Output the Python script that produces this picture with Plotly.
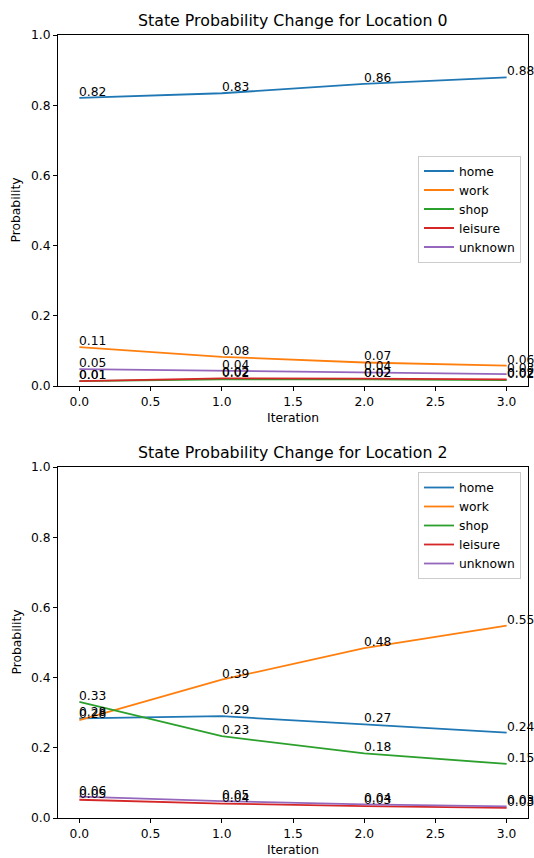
import plotly.graph_objects as go

iterations = [0, 1, 2, 3]
states = ["home", "work", "shop", "leisure", "unknown"]
colors = ["#1f77b4", "#ff7f0e", "#2ca02c", "#d62728", "#9467bd"]

loc0_home = [0.821, 0.834, 0.861, 0.879]
loc0_work = [0.111, 0.083, 0.067, 0.058]
loc0_shop = [0.014, 0.019, 0.019, 0.017]
loc0_leisure = [0.014, 0.022, 0.021, 0.019]
loc0_unknown = [0.048, 0.044, 0.039, 0.034]

loc2_home = [0.284, 0.290, 0.267, 0.243]
loc2_work = [0.279, 0.394, 0.484, 0.548]
loc2_shop = [0.331, 0.233, 0.184, 0.154]
loc2_leisure = [0.052, 0.041, 0.034, 0.029]
loc2_unknown = [0.061, 0.048, 0.039, 0.033]

titles = ["State Probability Change for Location 0", "State Probability Change for Location 2"]
x_ticks = [0, 0.5, 1, 1.5, 2, 2.5, 3]
y_ticks = [0, 0.2, 0.4, 0.6, 0.8, 1.0]

W, H = 534, 858
FONT = "DejaVu Sans"

panels = [
    [loc0_home, loc0_work, loc0_shop, loc0_leisure, loc0_unknown],
    [loc2_home, loc2_work, loc2_shop, loc2_leisure, loc2_unknown],
]
# axes boxes in pixels: (left, right, top, bottom)
boxes = [(58, 528, 35, 386), (58, 528, 467, 818)]

fig = go.Figure()
annotations = []
for p, (series_list, box) in enumerate(zip(panels, boxes)):
    xa = "x" if p == 0 else "x2"
    ya = "y" if p == 0 else "y2"
    lg = "legend" if p == 0 else "legend2"
    for name, vals, col in zip(states, series_list, colors):
        fig.add_trace(go.Scatter(
            x=iterations, y=vals, mode="lines", name=name,
            line=dict(color=col, width=1.8), xaxis=xa, yaxis=ya,
            legend=lg, hoverinfo="skip",
        ))
        for xi, v in zip(iterations, vals):
            annotations.append(dict(
                x=xi, y=v, xref=xa, yref=ya, text=f"{v:.2f}",
                showarrow=False, xanchor="left", yanchor="bottom",
                xshift=-2, yshift=-3,
                font=dict(family=FONT, size=12.3, color="black"),
            ))
    left, right, top, bottom = box
    cx = (left + right) / 2 / W
    annotations.append(dict(
        x=cx, y=1 - top / H, xref="paper", yref="paper", text=titles[p],
        showarrow=False, xanchor="center", yanchor="bottom", yshift=3,
        font=dict(family=FONT, size=15.8, color="black"),
    ))
    annotations.append(dict(
        x=cx, y=1 - (bottom + 32) / H, xref="paper", yref="paper", text="Iteration",
        showarrow=False, xanchor="center", yanchor="middle",
        font=dict(family=FONT, size=12.3, color="black"),
    ))
    annotations.append(dict(
        x=16 / W, y=1 - (top + bottom) / 2 / H, xref="paper", yref="paper",
        text="Probability", textangle=-90,
        showarrow=False, xanchor="center", yanchor="middle",
        font=dict(family=FONT, size=12.3, color="black"),
    ))

axis_common = dict(
    showline=True, linecolor="black", linewidth=1, mirror=True,
    ticks="outside", ticklen=4, tickwidth=1, tickcolor="black",
    showgrid=False, zeroline=False, automargin=False,
    tickfont=dict(family=FONT, size=12.3, color="black"),
)

layout = dict(
    width=W, height=H,
    margin=dict(l=0, r=0, t=0, b=0),
    paper_bgcolor="white", plot_bgcolor="white",
    annotations=annotations,
    font=dict(family=FONT, size=12, color="black"),
    legend=dict(
        x=521 / W, y=1 - 209 / H, xanchor="right", yanchor="middle",
        bgcolor="rgba(255,255,255,0.8)", bordercolor="#cccccc", borderwidth=1,
        font=dict(family=FONT, size=12.3, color="black"), itemwidth=30,
        tracegroupgap=0,
    ),
    legend2=dict(
        x=521 / W, y=1 - 472 / H, xanchor="right", yanchor="top",
        bgcolor="rgba(255,255,255,0.8)", bordercolor="#cccccc", borderwidth=1,
        font=dict(family=FONT, size=12.3, color="black"), itemwidth=30,
        tracegroupgap=0,
    ),
)
for p, box in enumerate(boxes):
    left, right, top, bottom = box
    sfx = "" if p == 0 else "2"
    layout["xaxis" + sfx] = dict(
        axis_common, domain=[left / W, right / W], range=[-0.15, 3.15],
        tickvals=x_ticks, ticktext=[f"{t:.1f}" for t in x_ticks],
        anchor="y" + sfx,
    )
    layout["yaxis" + sfx] = dict(
        axis_common, domain=[1 - bottom / H, 1 - top / H], range=[0, 1],
        tickvals=y_ticks, ticktext=[f"{t:.1f}" for t in y_ticks],
        anchor="x" + sfx,
    )

fig.update_layout(**layout)
fig.write_html(
    "out.html",
    config={"displayModeBar": False},
    post_script="document.body.style.margin='0';document.body.style.overflow='hidden';",
)
